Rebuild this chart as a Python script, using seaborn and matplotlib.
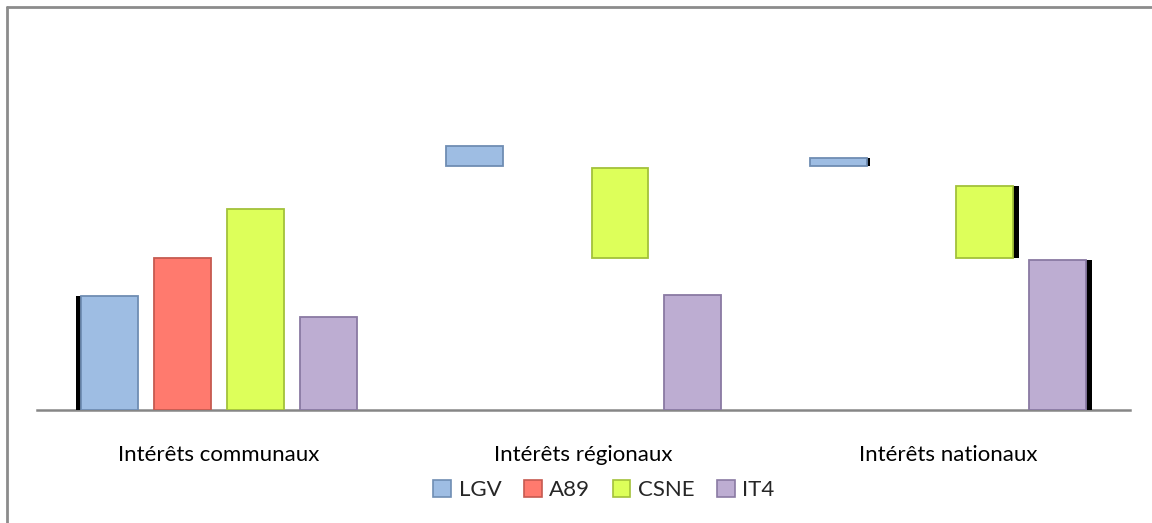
import numpy as np
import pandas as pd
import seaborn as sns
import matplotlib.pyplot as plt
import matplotlib.patheffects as pe
from matplotlib.lines import Line2D

# -----------------------------
# Données (unités arbitraires, pas d'axe gradué)
# -----------------------------
categories = ["Intérêts communaux", "Intérêts régionaux", "Intérêts nationaux"]
series = ["LGV", "A89", "CSNE", "IT4"]

lgv_bottom = [0.0, 6.42, 6.42]
lgv_top = [3.0, 6.95, 6.63]
a89_bottom = [0.0, np.nan, np.nan]
a89_top = [4.0, np.nan, np.nan]
csne_bottom = [0.0, 4.0, 4.0]
csne_top = [5.3, 6.37, 5.9]
it4_bottom = [0.0, 0.0, 0.0]
it4_top = [2.45, 3.03, 3.95]

bottoms = {"LGV": lgv_bottom, "A89": a89_bottom, "CSNE": csne_bottom, "IT4": it4_bottom}
tops = {"LGV": lgv_top, "A89": a89_top, "CSNE": csne_top, "IT4": it4_top}

face = {"LGV": "#9EBDE3", "A89": "#FF7A6E", "CSNE": "#DDFF5A", "IT4": "#BDADD2"}
edge = {"LGV": "#6F8DB3", "A89": "#C65A50", "CSNE": "#A3C13A", "IT4": "#8A7AA3"}

rows = []
for s in series:
    for i, c in enumerate(categories):
        rows.append({"cat": c, "serie": s,
                     "hauteur": tops[s][i] - bottoms[s][i],
                     "bas": bottoms[s][i]})
df = pd.DataFrame(rows).dropna()

# -----------------------------
# Style
# -----------------------------
sns.set_theme(style="white")
plt.rcParams["font.family"] = ["Lato", "DejaVu Sans"]

fig = plt.figure(figsize=(11.52, 5.23), dpi=100)
ax = fig.add_axes([37 / 1152, 1 - 410 / 523, (1130 - 37) / 1152, (410 - 30) / 523])

sns.barplot(data=df, x="cat", y="hauteur", hue="serie", order=categories,
            hue_order=series, palette=face, saturation=1, width=0.8, gap=0.22,
            legend=False, ax=ax)

# barres flottantes : on décale chaque barre sur son bas
for s, cont in zip(series, ax.containers):
    for p in cont.patches:
        i = int(round(p.get_x() + p.get_width() / 2))
        p.set_y(bottoms[s][i])
        p.set_edgecolor(edge[s])
        p.set_linewidth(1.3)

# ombres noires (effet Excel)
shadow = {("LGV", 0): (-4, 0), ("LGV", 2): (2, 0),
          ("CSNE", 2): (4.5, 0), ("IT4", 2): (4.5, 0)}
for s, cont in zip(series, ax.containers):
    for p in cont.patches:
        i = int(round(p.get_x() + p.get_width() / 2))
        if (s, i) in shadow:
            p.set_path_effects([pe.SimplePatchShadow(offset=shadow[(s, i)],
                                                     shadow_rgbFace="black",
                                                     alpha=1.0), pe.Normal()])

ax.set_xlim(-0.5, 2.5)
ax.set_ylim(0, 10)
ax.set_xlabel("")
ax.set_ylabel("")
ax.set_yticks([])
ax.tick_params(axis="x", length=0, pad=25, labelsize=16, labelcolor="black")
for sp in ["top", "left", "right"]:
    ax.spines[sp].set_visible(False)
ax.spines["bottom"].set_color("#868686")
ax.spines["bottom"].set_linewidth(1.8)
ax.spines["bottom"].set_zorder(0.5)

# légende
handles = [plt.Rectangle((0, 0), 1, 1, facecolor=face[s], edgecolor=edge[s], linewidth=1.2)
           for s in series]
fig.legend(handles, series, loc="center", bbox_to_anchor=(604 / 1152, 1 - 490 / 523),
           ncol=4, frameon=False, fontsize=16, handlelength=0.8, handleheight=0.8,
           handletextpad=0.35, columnspacing=1.0)

# cadre du graphique (haut et gauche)
fig.add_artist(Line2D([7 / 1152, 1], [1 - 7 / 523, 1 - 7 / 523], color="#8C8C8C", lw=2))
fig.add_artist(Line2D([7 / 1152, 7 / 1152], [0, 1 - 7 / 523], color="#8C8C8C", lw=2))

fig.savefig("out.png", dpi=100)
